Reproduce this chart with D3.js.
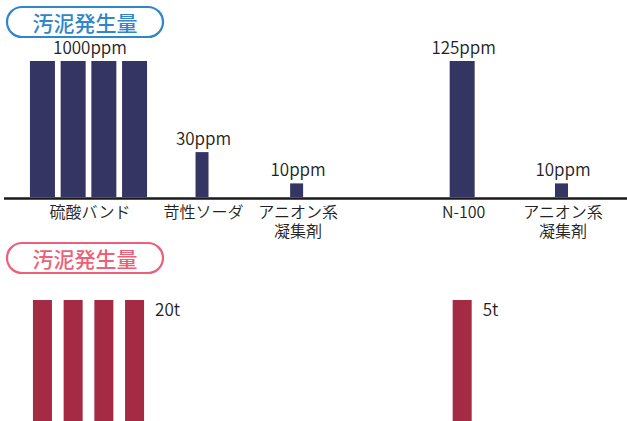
<!DOCTYPE html>
<html lang="ja">
<head>
<meta charset="utf-8">
<title>汚泥発生量</title>
<script src="https://cdn.jsdelivr.net/npm/d3@7/dist/d3.min.js"></script>
<style>
  body { margin: 0; background: #fff; }
  svg text { font-family: "Noto Sans CJK JP", "Noto Sans", sans-serif; font-weight: 350; fill: #222; }
</style>
</head>
<body>
<script>
// --- data ---
var categories = ["硫酸バンド", "苛性ソーダ", "アニオン系\n凝集剤", "N-100", "アニオン系\n凝集剤"];
var slotIndex = [0, 24, 44, 79, 100];
var ppmLabels = ["1000ppm", "30ppm", "10ppm", "125ppm", "10ppm"];
var barCounts = [4, 1, 1, 1, 1];
var barLevels = [100, 33, 10, 100, 10];

var sludgeCats = [0, 3];          // index into categories
var sludgeLabels = ["20t", "5t"];
var sludgeBars = [4, 1];           // 5t per bar
var sludgePerBar = [5, 5];

var titleText = "汚泥発生量";

// --- layout ---
var w = 627, h = 421;
var step = 30.7;

var svg = d3.select("body").append("svg")
    .attr("width", w)
    .attr("height", h);

var x = d3.scaleLinear().domain([0, 100]).range([88.5, 561.5]);
var yTop = d3.scaleLinear().domain([0, 100]).range([197, 61]);
var yBot = d3.scaleLinear().domain([0, 5]).range([440, 300]);

function pill(y, color) {
    var g = svg.append("g");
    g.append("rect")
        .attr("x", 7).attr("y", y)
        .attr("width", 156).attr("height", 30)
        .attr("rx", 15).attr("ry", 15)
        .attr("fill", "#fff")
        .attr("stroke", color)
        .attr("stroke-width", 2.2);
    g.append("text")
        .attr("x", 85).attr("y", y + 23.5)
        .attr("text-anchor", "middle")
        .style("font-size", "21px")
        .style("font-weight", 500)
        .style("fill", color)
        .text(titleText);
}

// top chart bars
var topBars = [];
categories.forEach(function(c, i) {
    var n = barCounts[i];
    for (var j = 0; j < n; j++) {
        topBars.push({ cx: x(slotIndex[i]) + (j - (n - 1) / 2) * step, level: barLevels[i] });
    }
});

svg.selectAll("rect.top")
    .data(topBars)
    .enter().append("rect")
    .attr("class", "top")
    .attr("x", function(d) { var bw = d.level >= 100 ? 25 : 13; return d.cx - bw / 2; })
    .attr("y", function(d) { return yTop(d.level); })
    .attr("width", function(d) { return d.level >= 100 ? 25 : 13; })
    .attr("height", function(d) { return yTop(0) - yTop(d.level); })
    .attr("fill", "#343562");

// ppm labels
svg.selectAll("text.ppm")
    .data(ppmLabels)
    .enter().append("text")
    .attr("class", "ppm")
    .attr("x", function(d, i) { return x(slotIndex[i]) + 1.5; })
    .attr("y", function(d, i) { return yTop(barLevels[i]) - 7; })
    .attr("text-anchor", "middle")
    .style("font-size", "17px")
    .text(function(d) { return d; });

// baseline
svg.append("line")
    .attr("x1", 4).attr("x2", w)
    .attr("y1", 198.5).attr("y2", 198.5)
    .attr("stroke", "#1a1a1a")
    .attr("stroke-width", 2.5);

// category labels
var cat = svg.selectAll("text.cat")
    .data(categories)
    .enter().append("text")
    .attr("class", "cat")
    .attr("text-anchor", "middle")
    .style("font-size", "16px");
cat.each(function(d, i) {
    var t = d3.select(this);
    d.split("\n").forEach(function(line, k) {
        t.append("tspan")
            .attr("x", x(slotIndex[i]) + 1.5)
            .attr("y", 218 + k * 18.5)
            .text(line);
    });
});

pill(7, "#2f86cc");
pill(243, "#ee5f78");

// bottom chart bars
var botBars = [];
sludgeCats.forEach(function(ci, i) {
    var n = sludgeBars[i];
    for (var j = 0; j < n; j++) {
        botBars.push({ cx: x(slotIndex[ci]) + (j - (n - 1) / 2) * step, v: sludgePerBar[i] });
    }
});

svg.selectAll("rect.bot")
    .data(botBars)
    .enter().append("rect")
    .attr("class", "bot")
    .attr("x", function(d) { return d.cx - 9.5; })
    .attr("y", function(d) { return yBot(d.v); })
    .attr("width", 19)
    .attr("height", function(d) { return yBot(0) - yBot(d.v); })
    .attr("fill", "#a52a43");

svg.selectAll("text.ton")
    .data(sludgeLabels)
    .enter().append("text")
    .attr("class", "ton")
    .attr("x", function(d, i) {
        var ci = sludgeCats[i];
        return x(slotIndex[ci]) + ((sludgeBars[i] - 1) / 2) * step + 9.5 + 11;
    })
    .attr("y", 316)
    .style("font-size", "17px")
    .text(function(d) { return d; });
</script>
</body>
</html>
